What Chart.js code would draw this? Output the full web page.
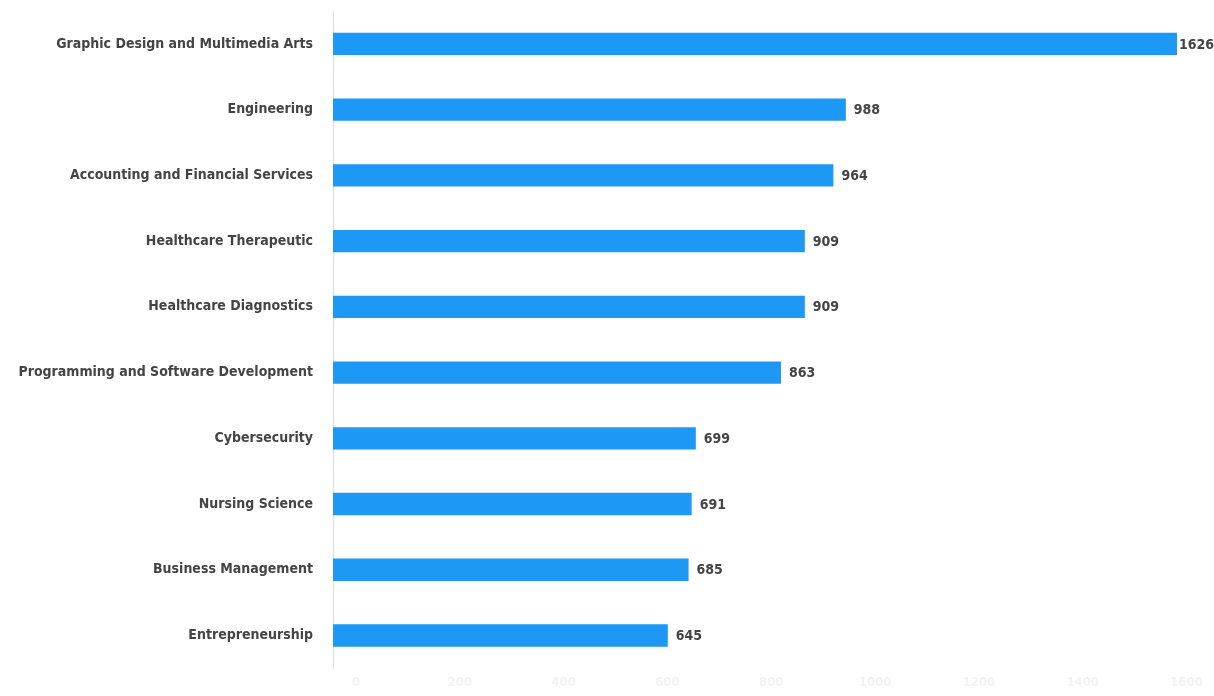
<!DOCTYPE html>
<html>
<head>
<meta charset="utf-8">
<script src="https://cdn.jsdelivr.net/npm/chart.js@4"></script>
<style>
  html, body { margin: 0; padding: 0; background: #fff; }
  #wrap { width: 1214px; height: 696px; }
</style>
</head>
<body>
<div id="wrap"><canvas id="chart"></canvas></div>
<script>
const categories = [
  "Graphic Design and Multimedia Arts",
  "Engineering",
  "Accounting and Financial Services",
  "Healthcare Therapeutic",
  "Healthcare Diagnostics",
  "Programming and Software Development",
  "Cybersecurity",
  "Nursing Science",
  "Business Management",
  "Entrepreneurship"
]
const counts = [1626, 988, 964, 909, 909, 863, 699, 691, 685, 645]
const xTicks = [0, 200, 400, 600, 800, 1000, 1200, 1400, 1600]

const fontFamily = "'DejaVu Sans Condensed', 'Noto Sans', sans-serif"

// draw the value at the end of each bar
const valueLabels = {
  id: 'valueLabels',
  afterDatasetsDraw(chart) {
    let ctx = chart.ctx
    let meta = chart.getDatasetMeta(0)
    ctx.save()
    ctx.font = "bold 14px " + fontFamily
    ctx.fillStyle = '#444'
    ctx.textBaseline = 'middle'
    meta.data.forEach((bar, i) => {
      let text = String(counts[i])
      let w = ctx.measureText(text).width
      let x = Math.min(bar.x + 8, chart.width - w)
      ctx.fillText(text, x, bar.y + 1)
    })
    ctx.restore()
  }
}

const ctx = document.getElementById('chart')
new Chart(ctx, {
  type: 'bar',
  data: {
    labels: categories,
    datasets: [{
      data: counts,
      backgroundColor: '#1e98f5',
      borderWidth: 0,
      barPercentage: 0.34,
      categoryPercentage: 1
    }]
  },
  options: {
    indexAxis: 'y',
    responsive: true,
    maintainAspectRatio: false,
    animation: false,
    layout: { padding: { top: 11, right: 37, bottom: 0, left: 0 } },
    scales: {
      x: {
        min: 0,
        max: 1626,
        afterBuildTicks: function (scale) {
          scale.ticks = xTicks.map(v => ({ value: v }))
        },
        afterFit: function (scale) {
          scale.paddingLeft = 0
          scale.paddingRight = 0
        },
        grid: { display: false, drawTicks: false },
        border: { display: false },
        ticks: {
          color: '#f2f2f2',
          padding: 6,
          labelOffset: 23,
          callback: function (value) { return String(value) },
          font: { family: fontFamily, size: 13, weight: 'bold' }
        }
      },
      y: {
        afterFit: function (scale) {
          scale.width = 333
          scale.paddingTop = 0
          scale.paddingBottom = 0
        },
        grid: { display: false, drawTicks: false },
        border: { display: true, color: '#dcdcdc', width: 1 },
        ticks: {
          color: '#444',
          padding: 20,
          font: { family: fontFamily, size: 14, weight: 'bold' }
        }
      }
    },
    plugins: {
      legend: { display: false },
      tooltip: { enabled: false }
    }
  },
  plugins: [valueLabels]
})
</script>
</body>
</html>
